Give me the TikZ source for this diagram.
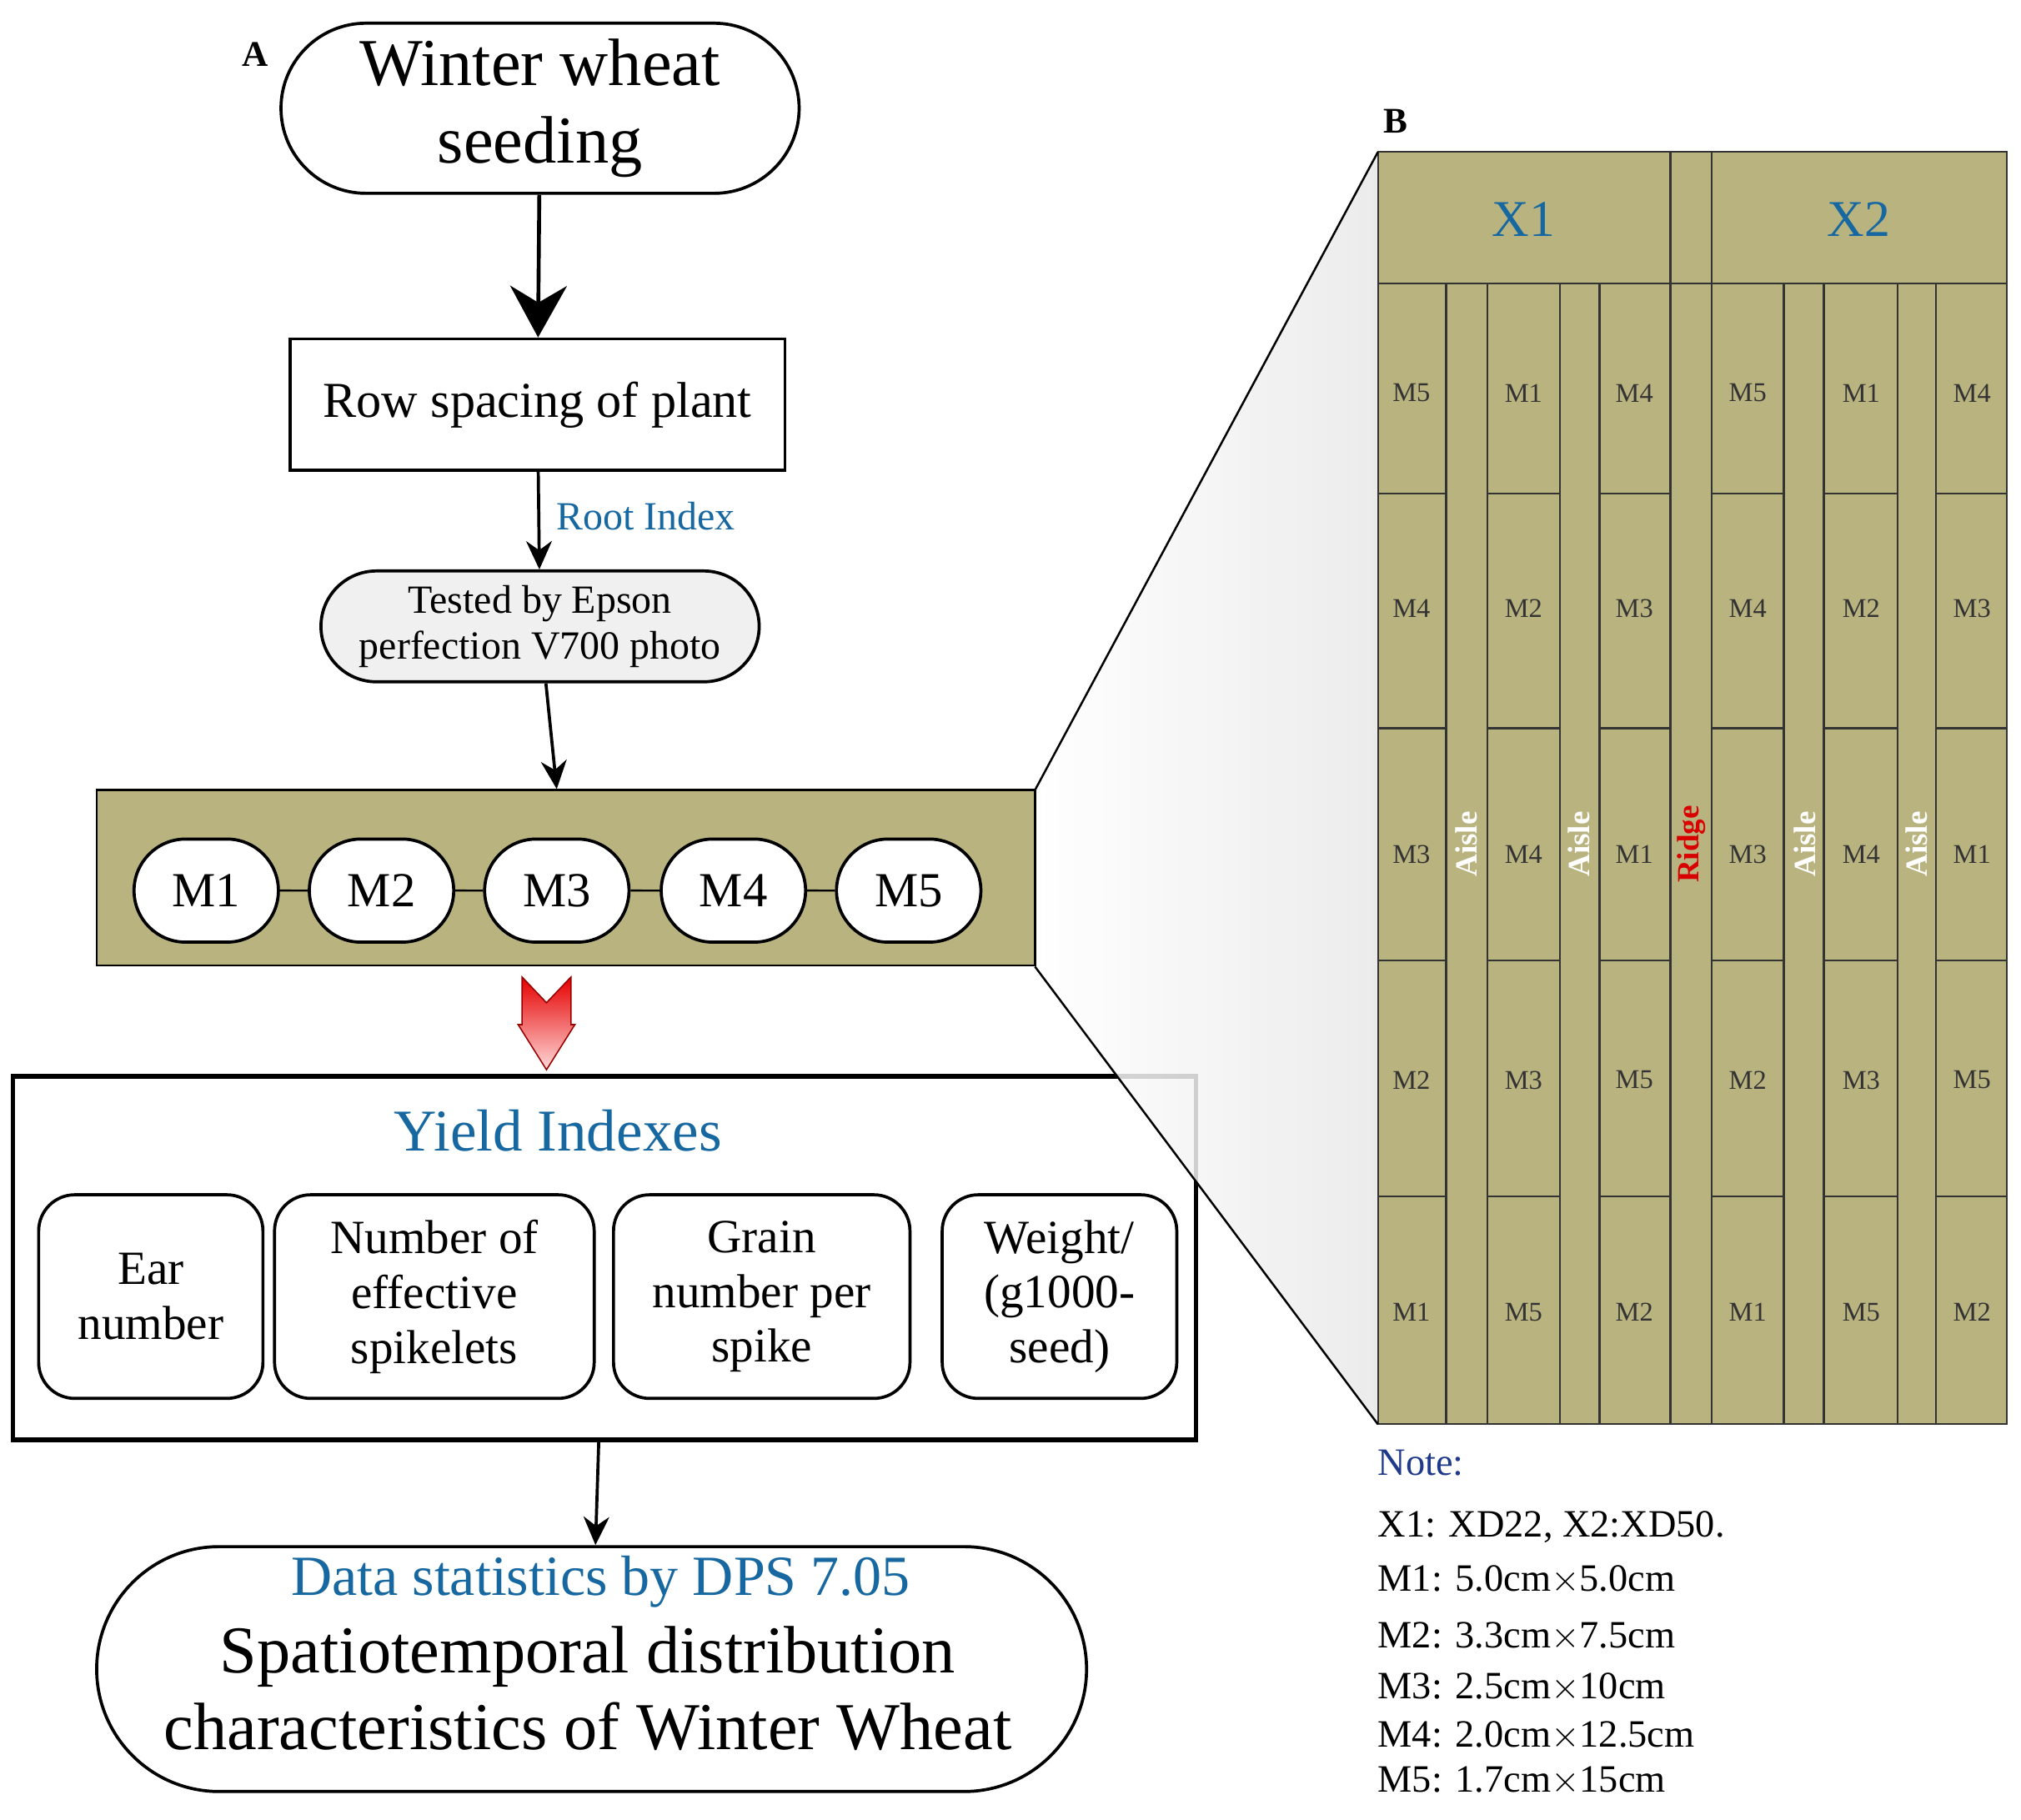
\documentclass[tikz,border=0pt]{standalone}
\usepackage{fontspec}
\setmainfont{Liberation Serif}
\usetikzlibrary{arrows.meta,shapes.misc}
\definecolor{olive}{HTML}{B8B37F}
\definecolor{tblue}{HTML}{1768A0}
\definecolor{navy}{HTML}{1F3A8A}
\tikzset{
 fs/.style={font=\fontsize{#1}{\fpeval{1.15*#1}}\selectfont},
 arr/.style={-{Stealth[length=11pt,width=10pt]},line width=1.2pt},
 rnd/.style={draw,line width=1.2pt,rounded corners=14pt,align=center,inner sep=0pt},
 pill/.style={draw,line width=1.2pt,rounded rectangle,align=center,inner sep=0pt},
 cell/.style={fs=10.5,text=black!80},
 aisle/.style={font=\bfseries\fontsize{12}{12}\selectfont,rotate=90,text=white}
}
\begin{document}
\begin{tikzpicture}[x=0.5pt,y=-0.5pt]
\useasboundingbox (0,0) rectangle (1568,1412);
% yield box (under funnel)
\node[draw,line width=1.8pt,minimum width=459pt,minimum height=141pt,inner sep=0pt] (ybox) at (469,976) {};
% funnel
\path[left color=white,right color=black!9,fill opacity=0.85] (803,613) -- (1069,118) -- (1069,1105) -- (803,750) -- cycle;
% panel B
\fill[olive] (1069,118) rectangle (1557,1105);
\draw[line width=0.7pt,black!80] (1069,118) rectangle (1557,1105);
\draw[line width=0.7pt,black!80] (1069,220) -- (1557,220);
\foreach \x in {1122,1154,1210,1241,1384,1415,1472,1502} \draw[line width=0.7pt,black!80] (\x,220) -- (\x,1105);
\foreach \x in {1296,1328} \draw[line width=0.7pt,black!80] (\x,118) -- (\x,1105);
\foreach \a/\b in {1069/1122,1154/1210,1241/1296,1328/1384,1415/1472,1502/1557}
  \foreach \y in {383,565,745,928} \draw[line width=0.7pt,black!80] (\a,\y) -- (\b,\y);
\draw[line width=0.8pt] (803,613) -- (1069,118);
\draw[line width=0.8pt] (803,750) -- (1069,1105);
\node[fs=20,text=tblue] (x1) at (1182,170) {X1};
\node[fs=20,text=tblue] (x2) at (1442,170) {X2};
\foreach \c/\labs in {1095/{M5,M4,M3,M2,M1},1182/{M1,M2,M4,M3,M5},1268/{M4,M3,M1,M5,M2},1356/{M5,M4,M3,M2,M1},1444/{M1,M2,M4,M3,M5},1530/{M4,M3,M1,M5,M2}}{
  \foreach \l [count=\i] in \labs {
    \pgfmathsetmacro{\yy}{{305,472,663,838,1018}[\i-1]}
    \node[cell] (c\c-\i) at (\c,\yy) {\l};
  }
}
\node[aisle] (a1) at (1138,655) {Aisle};
\node[aisle] (a2) at (1225,655) {Aisle};
\node[aisle,text=red!85!black] (rg) at (1312,655) {Ridge};
\node[aisle] (a3) at (1400,655) {Aisle};
\node[aisle] (a4) at (1487,655) {Aisle};
\node[font=\bfseries\fontsize{14}{14}\selectfont] (B) at (1083,94) {B};
% note
\node[fs=15,text=navy,anchor=west] (note) at (1062,1135) {Note:};
\node[fs=15,anchor=west] (n1) at (1062,1185) {X1: XD22, X2:XD50.};
\node[fs=15,anchor=west] (n2) at (1062,1226) {M1: 5.0cm$\times$5.0cm};
\node[fs=15,anchor=west] (n3) at (1062,1270) {M2: 3.3cm$\times$7.5cm};
\node[fs=15,anchor=west] (n4) at (1062,1309) {M3: 2.5cm$\times$10cm};
\node[fs=15,anchor=west] (n5) at (1062,1347) {M4: 2.0cm$\times$12.5cm};
\node[fs=15,anchor=west] (n6) at (1062,1382) {M5: 1.7cm$\times$15cm};
% left flow
\node[font=\bfseries\fontsize{14}{14}\selectfont] (A) at (198,42) {A};
\node[pill,fs=26,minimum width=201pt,minimum height=66pt] (ww) at (419,84) {Winter wheat\\seeding};
\node[draw,line width=1.2pt,fs=19.5,minimum width=192pt,minimum height=51pt,inner sep=0pt] (rs) at (417,314) {Row spacing of plant};
\node[pill,fill=black!6,fs=15.5,minimum width=170pt,minimum height=43pt] (ep) at (419,486) {Tested by Epson\\perfection V700 photo};
\node[draw,line width=0.8pt,fill=olive,minimum width=364pt,minimum height=68pt,inner sep=0pt] (mb) at (439,681) {};
\foreach \n [count=\i] in {M1,M2,M3,M4,M5}{
  \pgfmathsetmacro{\xx}{{160,296,432,569,705}[\i-1]}
  \node[pill,fill=white,fs=19,minimum width=56pt,minimum height=40pt] (m\i) at (\xx,691) {\n};
}
\foreach \i/\j in {1/2,2/3,3/4,4/5} \draw[line width=0.8pt] (m\i) -- (m\j);
\draw[-{Stealth[length=20pt,width=22pt]},line width=1.5pt] (ww) -- (rs);
\draw[arr] (rs) -- (ep) node[pos=0.45,right=3pt,fs=15.5,text=tblue] (ri) {Root Index};
\draw[arr] (ep) -- (mb);
% red arrow
\shade[top color=red!90!black,bottom color=red!15,draw=red!60!black,line width=0.5pt] (405,758) -- (424,778) -- (443,758) -- (443,795) -- (446,795) -- (424,830) -- (402,795) -- (405,795) -- cycle;
\node[fs=23,text=tblue] (yt) at (433,877) {Yield Indexes};
\node[rnd,fs=18.5,minimum width=87pt,minimum height=79pt] (y1) at (117,1006) {Ear\\number};
\node[rnd,fs=18.5,minimum width=124pt,minimum height=79pt] (y2) at (337,1006) {Number of\\effective\\spikelets};
\node[rnd,fs=18.5,minimum width=115pt,minimum height=79pt] (y3) at (591,1006) {Grain\\number per\\spike};
\node[rnd,fs=18.5,minimum width=91pt,minimum height=79pt] (y4) at (822,1006) {Weight/\\(g1000-\\seed)};
\node[pill,minimum width=384pt,minimum height=95pt] (ds) at (459,1295) {};
\node[fs=22,text=tblue] (dt) at (466,1227) {Data statistics by DPS 7.05};
\node[fs=26,align=center] (sd) at (456,1310) {Spatiotemporal distribution\\characteristics of Winter Wheat};
\draw[arr] (ybox) -- (ds);
\end{tikzpicture}
\end{document}
